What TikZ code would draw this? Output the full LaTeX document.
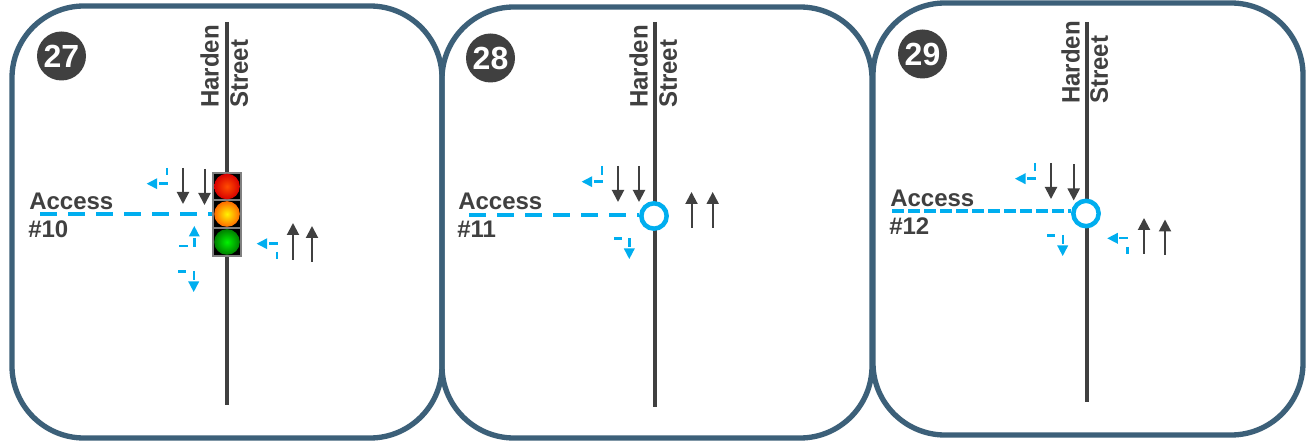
\documentclass[tikz,border=0pt]{standalone}
\usepackage{fontspec}
\setmainfont{Liberation Sans}
\usetikzlibrary{arrows.meta}
\definecolor{panelc}{HTML}{3C6079}
\definecolor{darkc}{HTML}{404040}
\definecolor{cyanc}{HTML}{00AEEF}
\tikzset{
  x=0.75pt,y=-0.75pt,
  panel/.style={draw=panelc,line width=4pt,rounded corners=54pt,inner sep=0pt,outer sep=0pt},
  road/.style={draw=darkc,line width=3pt},
  access/.style={draw=cyanc,line width=3pt,dash pattern=on 12.75pt off 8.25pt},
  accessb/.style={draw=cyanc,line width=3pt,dash pattern=on 9pt off 3pt},
  darkarrow/.style={draw=darkc,line width=1.5pt,-{Triangle[length=9pt,width=9pt]}},
  turnseg/.style={draw=cyanc,line width=1.8pt},
  badge/.style={circle,fill=darkc,minimum size=36.75pt,inner sep=0pt,text=white,font=\bfseries\fontsize{24pt}{25pt}\selectfont},
  lbl/.style={text=darkc,inner sep=0pt,font=\bfseries\fontsize{18pt}{20pt}\selectfont},
  junction/.style={circle,draw=cyanc,fill=white,line width=3.4pt,minimum size=19pt,inner sep=0pt}
}
\newcommand{\darr}[4]{\coordinate (#1t) at (#2,#3);\coordinate (#1h) at (#2,#4);\draw[darkarrow] (#1t) -- (#1h);}
\newcommand{\headL}[2]{\fill[cyanc] (#1,#2) -- ++(10.5,-5.5) -- ++(0,11) -- cycle;}
\newcommand{\headD}[2]{\fill[cyanc] (#1,#2) -- ++(-5.5,-10.5) -- ++(11,0) -- cycle;}
\newcommand{\headU}[2]{\fill[cyanc] (#1,#2) -- ++(-5.5,10.5) -- ++(11,0) -- cycle;}
\newcommand{\seg}[4]{\draw[turnseg] (#1,#2) -- (#3,#4);}
\newcommand{\vlabel}[1]{\rotatebox{90}{\scalebox{1}[1.05]{#1}}}
\begin{document}
\begin{tikzpicture}
\useasboundingbox (0,0) rectangle (1306,441);
\fill[white] (0,0) rectangle (1306,441);
% panels
\node[panel,minimum width=322.5pt,minimum height=324pt] (p1) at (227,222) {};
\node[panel,minimum width=322.5pt,minimum height=323.25pt] (p2) at (657,222.5) {};
\node[panel,minimum width=322.5pt,minimum height=324pt] (p3) at (1088,219) {};
% badges
\node[badge] (b27) at (61.5,56) {27};
\node[badge] (b28) at (490.5,58) {28};
\node[badge] (b29) at (922.5,54) {29};
% roads
\coordinate (r1a) at (227,22); \coordinate (r1b) at (227,405);
\coordinate (r2a) at (655,22); \coordinate (r2b) at (655,407);
\coordinate (r3a) at (1087,22); \coordinate (r3b) at (1087,402);
\draw[road] (r1a) -- (r1b);
\draw[road] (r2a) -- (r2b);
\draw[road] (r3a) -- (r3b);
% street labels
\node[lbl,anchor=south west] (h1) at (200,108) {\vlabel{Harden}};
\node[lbl,anchor=south west] (s1) at (230,108) {\vlabel{Street}};
\node[lbl,anchor=south west] (h2) at (629,108) {\vlabel{Harden}};
\node[lbl,anchor=south west] (s2) at (659,108) {\vlabel{Street}};
\node[lbl,anchor=south west] (h3) at (1061,104) {\vlabel{Harden}};
\node[lbl,anchor=south west] (s3) at (1090,104) {\vlabel{Street}};
% access labels
\node[lbl,anchor=base west] (a1) at (29,210) {Access};
\node[lbl,anchor=base west] (n1) at (28,238) {\#10};
\node[lbl,anchor=base west] (a2) at (458,210) {Access};
\node[lbl,anchor=base west] (n2) at (457,238) {\#11};
\node[lbl,anchor=base west] (a3) at (890,207) {Access};
\node[lbl,anchor=base west] (n3) at (889,235) {\#12};
% signal
\node[draw=gray,fill=black,line width=1.5pt,minimum width=21pt,minimum height=62.5pt,inner sep=0pt] (sig) at (226.5,214.5) {};
\draw[gray,line width=1.2pt] (sig.west |- 0,200) -- (sig.east |- 0,200);
\draw[gray,line width=1.2pt] (sig.west |- 0,228) -- (sig.east |- 0,228);
\shade[inner color=orange!60!red,outer color=red!85!black] (227,186.5) circle (9.6pt);
\shade[inner color=yellow!90!orange,outer color=orange!85!red] (227,214) circle (9.6pt);
\shade[inner color=green!95!black,outer color=green!50!black] (227,242) circle (9.6pt);
% junctions
\node[junction] (j2) at (654,216) {};
\node[junction] (j3) at (1086,213.5) {};
% access lines
\coordinate (acc1) at (40,214);
\coordinate (acc2) at (469,214.7);
\coordinate (acc3) at (892,211.3);
\draw[access] (acc1) -- (sig.west |- acc1);
\draw[access] (acc2) -- (j2.west |- acc2);
\draw[accessb] (acc3) -- (j3.west |- acc3);
% through arrows
\darr{p1a}{183}{168}{204}
\darr{p1b}{204.5}{169}{205}
\darr{p1c}{293}{260}{223}
\darr{p1d}{312}{262}{226}
\darr{p2a}{618}{166}{202}
\darr{p2b}{639}{166}{202}
\darr{p2c}{691.5}{228}{192}
\darr{p2d}{712.7}{228}{192}
\darr{p3a}{1051}{163}{199}
\darr{p3b}{1073.7}{164.5}{200.5}
\darr{p3c}{1144}{254}{218}
\darr{p3d}{1165}{255}{219.5}
% turn arrows, panel 1
\headL{146.7}{183.7} \seg{159}{183.7}{168}{183.7} \seg{166.7}{168}{166.7}{175}
\headU{194.3}{226} \seg{179}{246.3}{188}{246.3} \seg{194.3}{238}{194.3}{247}
\headD{193.7}{292} \seg{178}{271.5}{186}{271.5} \seg{193.7}{271}{193.7}{280}
\headL{256.7}{243.7} \seg{269}{243.7}{278}{243.7} \seg{276.7}{252}{276.7}{259}
% turn arrows, panel 2
\headL{581.7}{181.7} \seg{594}{181.7}{603}{181.7} \seg{601.7}{166}{601.7}{175}
\headD{629.3}{259} \seg{614}{238.7}{622}{238.7} \seg{629.3}{238.5}{629.3}{247}
% turn arrows, panel 3
\headL{1015}{178.7} \seg{1027}{178.7}{1036}{178.7} \seg{1035}{163}{1035}{171}
\headD{1062.7}{256} \seg{1047}{235.7}{1055}{235.7} \seg{1062.7}{235}{1062.7}{244}
\headL{1107.3}{238.3} \seg{1119}{238.3}{1128}{238.3} \seg{1127.3}{247}{1127.3}{254}
\end{tikzpicture}
\end{document}
